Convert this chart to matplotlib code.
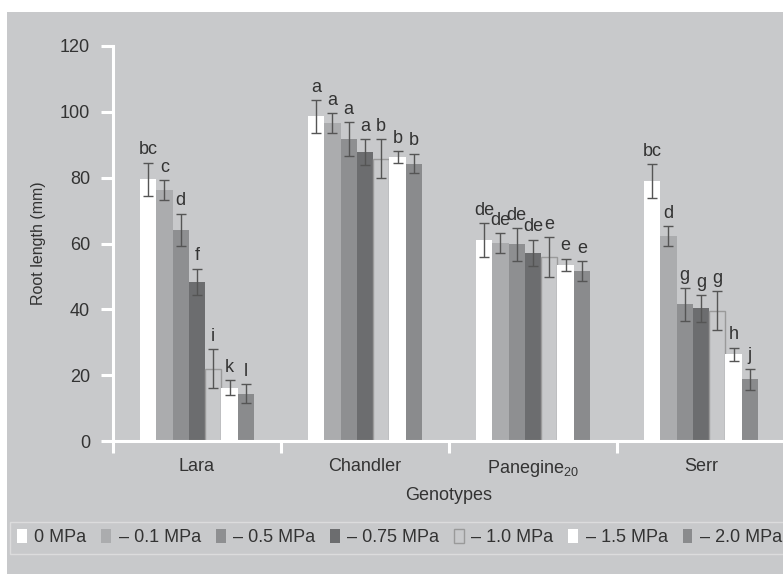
import numpy as np
import matplotlib
matplotlib.use('Agg')
import matplotlib.pyplot as plt
from matplotlib.patches import Rectangle

plt.rcParams['font.family'] = ['Liberation Sans', 'DejaVu Sans']
plt.rcParams['mathtext.default'] = 'regular'

# data
genotypes = ['Lara', 'Chandler', 'Panegine$_{20}$', 'Serr']
treatments = ['0 MPa', '– 0.1 MPa', '– 0.5 MPa', '– 0.75 MPa', '– 1.0 MPa', '– 1.5 MPa', '– 2.0 MPa']

lara = [79.5, 76.2, 64.1, 48.4, 22.0, 16.2, 14.3]
chandler = [98.6, 96.5, 91.7, 87.7, 85.8, 86.3, 84.3]
panegine = [61.0, 60.2, 59.8, 57.2, 55.9, 53.5, 51.7]
serr = [78.9, 62.2, 41.5, 40.3, 39.6, 26.4, 18.8]

lara_err = [5.1, 3.0, 5.0, 4.0, 5.9, 2.2, 2.9]
chandler_err = [5.0, 3.0, 5.2, 4.0, 6.0, 1.9, 3.0]
panegine_err = [5.2, 3.0, 5.0, 4.0, 6.0, 1.9, 3.0]
serr_err = [5.2, 3.0, 4.9, 4.0, 6.0, 2.0, 3.2]

lara_lab = ['bc', 'c', 'd', 'f', 'i', 'k', 'l']
chandler_lab = ['a', 'a', 'a', 'a', 'b', 'b', 'b']
panegine_lab = ['de', 'de', 'de', 'de', 'e', 'e', 'e']
serr_lab = ['bc', 'd', 'g', 'g', 'g', 'h', 'j']

values = np.array([lara, chandler, panegine, serr])
errors = np.array([lara_err, chandler_err, panegine_err, serr_err])
letters = [lara_lab, chandler_lab, panegine_lab, serr_lab]

bg = '#c8c9cb'
txt = '#333333'
colors = ['#ffffff', '#abacae', '#8e8f91', '#6c6d6f', bg, '#ffffff', '#8a8b8d']
edges = ['none', 'none', 'none', 'none', '#9a9a9a', 'none', 'none']

fig = plt.figure(figsize=(7.83, 5.74), dpi=100)
fig.patch.set_facecolor('white')
fig.patches.append(Rectangle((7/783, 0), 1, 1 - 12/574, transform=fig.transFigure,
                             facecolor=bg, edgecolor='none', zorder=-10))

ax = fig.add_axes([113/783, 133/574, 672/783, 395/574])
ax.set_facecolor('none')

x = np.arange(len(genotypes))
w = 0.097
for i in range(len(treatments)):
    pos = x + (i - 3) * w
    ax.bar(pos, values[:, i], width=w, color=colors[i], edgecolor=edges[i],
           linewidth=1.0, label=treatments[i], zorder=2)
    ax.errorbar(pos, values[:, i], yerr=errors[:, i], fmt='none', ecolor='#555555',
                elinewidth=1.0, capsize=3.5, capthick=1.0, zorder=3)
    for g in range(len(genotypes)):
        ax.annotate(letters[g][i], (pos[g], values[g, i] + errors[g, i]),
                    xytext=(0, 3), textcoords='offset points', ha='center',
                    va='bottom', fontsize=13, color=txt)

ax.set_xlim(-0.5, 3.5)
ax.set_ylim(0, 120)
ax.set_yticks(np.arange(0, 121, 20))
ax.set_xticks(np.arange(-0.5, 3.6, 1))
ax.set_xticklabels([])
ax.set_xticks(x, minor=True)
ax.set_xticklabels(genotypes, minor=True)

for s in ['top', 'right']:
    ax.spines[s].set_visible(False)
for s in ['left', 'bottom']:
    ax.spines[s].set_color('white')
    ax.spines[s].set_linewidth(2.2)

ax.tick_params(axis='both', which='major', length=8.6, width=2.2, color='white',
               labelsize=13, labelcolor=txt)
ax.tick_params(axis='y', pad=8)
ax.tick_params(axis='x', which='minor', length=0, pad=12, labelsize=13, labelcolor=txt)

ax.set_xlabel('Genotypes', fontsize=13, color=txt, labelpad=6)
ax.set_ylabel('Root length (mm)', fontsize=11.5, color=txt, labelpad=10)

leg = fig.legend(loc='upper left', bbox_to_anchor=(10/783, 52/574), ncol=7,
                 fontsize=13, frameon=True, fancybox=False, handlelength=0.55,
                 handleheight=0.8, handletextpad=0.4, columnspacing=0.83,
                 borderpad=0.4, borderaxespad=0)
leg.get_frame().set_facecolor(bg)
leg.get_frame().set_edgecolor('#e2e2e2')
leg.get_frame().set_linewidth(1.0)
for t in leg.get_texts():
    t.set_color(txt)

fig.savefig('out.png', dpi=100)
